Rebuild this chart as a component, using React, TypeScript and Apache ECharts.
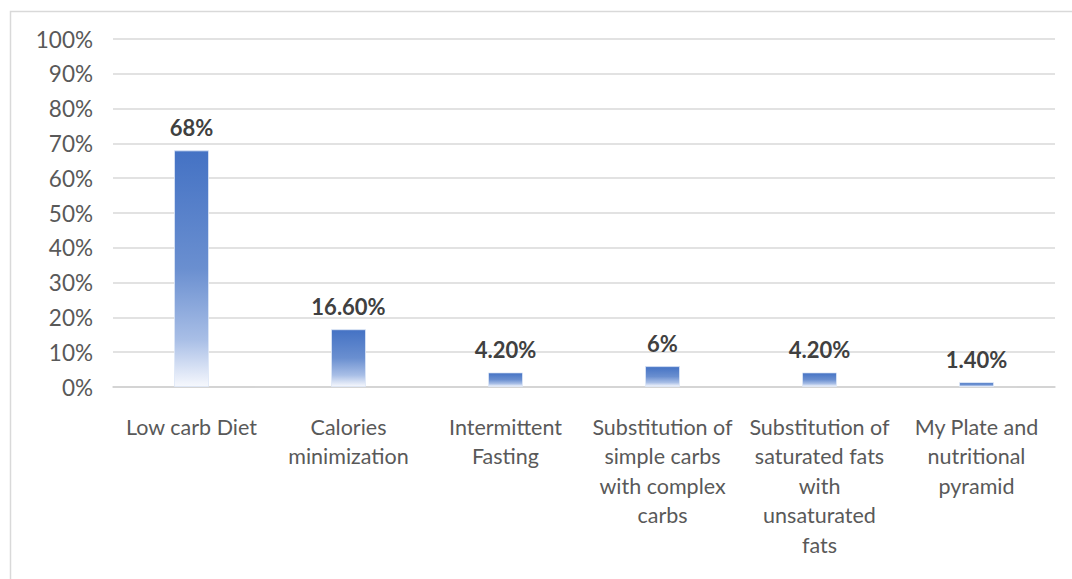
import React, { useEffect, useRef } from "react";
import * as echarts from "echarts";

const categories = [
  "Low carb Diet",
  "Calories\nminimization",
  "Intermittent\nFasting",
  "Substitution of\nsimple carbs\nwith complex\ncarbs",
  "Substitution of\nsaturated fats\nwith\nunsaturated\nfats",
  "My Plate and\nnutritional\npyramid",
];
const shares = [0.68, 0.166, 0.042, 0.06, 0.042, 0.014];
const shareLabels = ["68%", "16.60%", "4.20%", "6%", "4.20%", "1.40%"];

const FONT = "Lato, 'Open Sans', sans-serif";

export default function App() {
  const ref = useRef<HTMLDivElement>(null);

  useEffect(() => {
    document.body.style.margin = "0";
    const chart = echarts.init(ref.current!, null, { renderer: "svg" });
    chart.setOption({
      animation: false,
      backgroundColor: "#ffffff",
      graphic: [
        {
          type: "rect",
          left: 8,
          top: 9,
          shape: { width: 1100, height: 600 },
          style: { fill: "none", stroke: "#d9d9d9", lineWidth: 1.5 },
          silent: true,
        },
      ],
      grid: { left: 113, right: 17, top: 39, bottom: 192 },
      xAxis: {
        type: "category",
        data: categories,
        axisTick: { show: false },
        axisLine: { lineStyle: { color: "#d0d0d0", width: 1.5 } },
        axisLabel: {
          interval: 0,
          margin: 25,
          color: "#595959",
          fontFamily: FONT,
          fontSize: 21.5,
          lineHeight: 29.5,
          align: "center",
        },
      },
      yAxis: {
        type: "value",
        min: 0,
        max: 1,
        interval: 0.1,
        axisLine: { show: false },
        axisTick: { show: false },
        splitLine: { lineStyle: { color: "#d9d9d9", width: 1.5 } },
        axisLabel: {
          margin: 20,
          color: "#595959",
          fontFamily: FONT,
          fontSize: 22.5,
          formatter: (v: number) => `${Math.round(v * 100)}%`,
        },
      },
      series: [
        {
          type: "bar",
          data: shares,
          barWidth: 35,
          itemStyle: {
            borderColor: "rgba(220,230,246,0.8)",
            borderWidth: 1,
            color: new echarts.graphic.LinearGradient(0, 0, 0, 1, [
              { offset: 0, color: "#4472c4" },
              { offset: 0.5, color: "#6a8fd0" },
              { offset: 0.8, color: "#a8bee6" },
              { offset: 1, color: "#f6f8fd" },
            ]),
          },
          label: {
            show: true,
            position: "top",
            distance: 12,
            color: "#404040",
            fontFamily: FONT,
            fontSize: 22,
            fontWeight: "bold",
            formatter: (p: { dataIndex: number }) => shareLabels[p.dataIndex],
          },
        },
      ],
    });
    return () => chart.dispose();
  }, []);

  return <div ref={ref} style={{ width: 1072, height: 579 }} />;
}
